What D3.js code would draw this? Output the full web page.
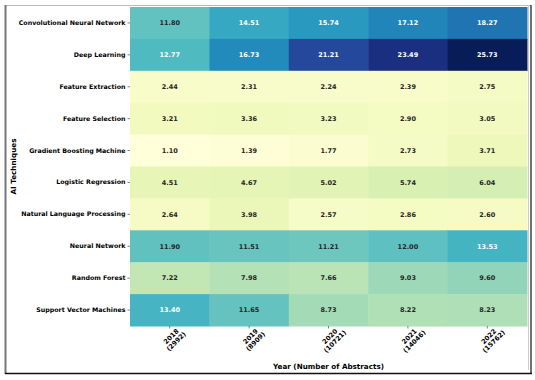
<!DOCTYPE html>
<html><head><meta charset="utf-8">
<script src="https://cdn.jsdelivr.net/npm/d3@7"></script>
<style>body{margin:0;background:#fff}svg{display:block}</style>
</head><body><svg id="c" width="535" height="380"></svg>
<script>
const techniques = ["Convolutional Neural Network","Deep Learning","Feature Extraction","Feature Selection","Gradient Boosting Machine","Logistic Regression","Natural Language Processing","Neural Network","Random Forest","Support Vector Machines"];
const years = ["2018","2019","2020","2021","2022"];
const abstracts = ["2992","8909","10721","14046","15762"];
const cnn = [11.80,14.51,15.74,17.12,18.27];
const dl = [12.77,16.73,21.21,23.49,25.73];
const fe = [2.44,2.31,2.24,2.39,2.75];
const fs = [3.21,3.36,3.23,2.90,3.05];
const gbm = [1.10,1.39,1.77,2.73,3.71];
const lr = [4.51,4.67,5.02,5.74,6.04];
const nlp = [2.64,3.98,2.57,2.86,2.60];
const nn = [11.90,11.51,11.21,12.00,13.53];
const rf = [7.22,7.98,7.66,9.03,9.60];
const svm = [13.40,11.65,8.73,8.22,8.23];
const rows = [cnn,dl,fe,fs,gbm,lr,nlp,nn,rf,svm];

const svg = d3.select("#c");
const font = "DejaVu Sans, sans-serif";
const L = 130, R = 527, T = 7, B = 326;

const x = d3.scaleBand().domain(years).range([L,R]);
const y = d3.scaleBand().domain(techniques).range([T,B]);
const all = rows.flat();
const color = d3.scaleSequential(d3.interpolateYlGnBu).domain([d3.min(all), d3.max(all)]);

const cells = [];
rows.forEach((r,i)=>r.forEach((v,j)=>cells.push({t:techniques[i],yr:years[j],v})));

svg.append("g").selectAll("rect").data(cells).join("rect")
  .attr("x",d=>x(d.yr)).attr("y",d=>y(d.t))
  .attr("width",x.bandwidth()+0.5).attr("height",y.bandwidth()+0.5)
  .attr("fill",d=>color(d.v));

function lum(c){
  const rgb = d3.rgb(c);
  const f = u=>{u/=255;return u<=0.03928?u/12.92:Math.pow((u+0.055)/1.055,2.4);};
  return 0.2126*f(rgb.r)+0.7152*f(rgb.g)+0.0722*f(rgb.b);
}
svg.append("g").selectAll("text").data(cells).join("text")
  .attr("x",d=>x(d.yr)+x.bandwidth()/2).attr("y",d=>y(d.t)+y.bandwidth()/2)
  .attr("dy","0.35em").attr("text-anchor","middle")
  .attr("font-family",font).attr("font-size",6.5).attr("font-weight","bold")
  .attr("fill",d=>lum(color(d.v))>0.408?"#262626":"#ffffff")
  .text(d=>d3.format(".2f")(d.v));

// y axis
const ya = svg.append("g").attr("transform",`translate(${L},0)`)
  .call(d3.axisLeft(y).tickSize(2.5).tickPadding(2));
ya.select(".domain").remove();
ya.selectAll("line").attr("stroke","#333").attr("stroke-width",0.6);
ya.selectAll("text").attr("font-family",font).attr("font-size",6.3).attr("font-weight","bold").attr("fill","#000");

// x axis
const xa = svg.append("g").attr("transform",`translate(0,${B})`)
  .call(d3.axisBottom(x).tickSize(2.5).tickFormat(""));
xa.select(".domain").remove();
xa.selectAll("line").attr("stroke","#333").attr("stroke-width",0.6);
years.forEach((yr,i)=>{
  const cx = x(yr)+x.bandwidth()/2;
  const t = svg.append("text")
    .attr("transform",`translate(${cx+3},${B+12}) rotate(-45)`)
    .attr("font-family",font).attr("font-size",6.5).attr("font-weight","bold").attr("fill","#000");
  t.append("tspan").attr("x",0).attr("y",0).text(yr);
  t.append("tspan").attr("x",0).attr("dy","1.1em").text("("+abstracts[i]+")");
  t.selectAll("tspan").attr("text-anchor","middle");
});

svg.append("text").attr("x",(L+R)/2).attr("y",369).attr("text-anchor","middle")
  .attr("font-family",font).attr("font-size",7.2).attr("font-weight","bold").text("Year (Number of Abstracts)");
svg.append("text").attr("transform",`translate(16,${(T+B)/2}) rotate(-90)`).attr("text-anchor","middle")
  .attr("font-family",font).attr("font-size",7.2).attr("font-weight","bold").text("AI Techniques");

// frame
svg.append("line").attr("x1",5).attr("x2",531).attr("y1",5.5).attr("y2",5.5).attr("stroke","#bbb").attr("stroke-width",1);
svg.append("line").attr("x1",5.5).attr("x2",5.5).attr("y1",5).attr("y2",374).attr("stroke","#777").attr("stroke-width",2);
svg.append("line").attr("x1",528.5).attr("x2",528.5).attr("y1",5).attr("y2",370).attr("stroke","#ccc").attr("stroke-width",1);
svg.append("line").attr("x1",531).attr("x2",531).attr("y1",5).attr("y2",374).attr("stroke","#111").attr("stroke-width",1.2);
svg.append("line").attr("x1",5).attr("x2",532).attr("y1",373.5).attr("y2",373.5).attr("stroke","#111").attr("stroke-width",1.3);
</script></body></html>
